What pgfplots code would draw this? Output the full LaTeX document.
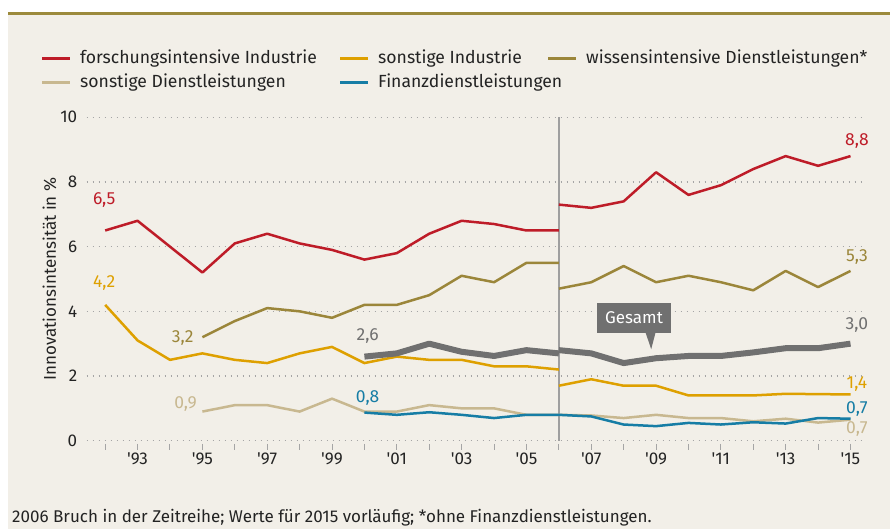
\documentclass[border=0pt]{standalone}
\usepackage{fontspec}
\setmainfont{Fira Sans}
\usepackage{pgfplots}
\pgfplotsset{compat=1.18}

\definecolor{bg}{RGB}{242,239,232}
\definecolor{rulec}{RGB}{156,138,60}
\definecolor{cred}{RGB}{190,28,40}
\definecolor{cyel}{RGB}{222,160,0}
\definecolor{coli}{RGB}{155,134,58}
\definecolor{cbei}{RGB}{200,184,144}
\definecolor{cblu}{RGB}{22,125,165}
\definecolor{cgry}{RGB}{112,112,112}
\definecolor{txt}{RGB}{35,35,35}
\definecolor{tickc}{RGB}{165,165,165}

\begin{document}
\begin{tikzpicture}[font=\fontsize{17}{20}\selectfont]
\begin{scope}[x=1pt,y=1pt]
\fill[white] (0,0) rectangle (890,529);
\fill[bg] (8,0) rectangle (890,514);
\fill[rulec] (8,514) rectangle (890,517);
\useasboundingbox (0,0) rectangle (890,529);

% legend
\begin{scope}[font=\fontsize{17.6}{20}\selectfont]
\draw[cred, line width=3pt] (42,470.7) -- (70,470.7);
\node[anchor=base west, inner sep=0, txt] at (80,465.7) {forschungsintensive Industrie};
\draw[cyel, line width=3pt] (340,470.7) -- (368,470.7);
\node[anchor=base west, inner sep=0, txt] at (378,465.7) {sonstige Industrie};
\draw[coli, line width=3pt] (548,470.7) -- (576,470.7);
\node[anchor=base west, inner sep=0, txt] at (586,465.7) {wissensintensive Dienstleistungen*};
\draw[cbei, line width=3pt] (42,446.7) -- (70,446.7);
\node[anchor=base west, inner sep=0, txt] at (80,441.7) {sonstige Dienstleistungen};
\draw[cblu, line width=3pt] (340,446.7) -- (368,446.7);
\node[anchor=base west, inner sep=0, txt] at (378,441.7) {Finanzdienstleistungen};
\end{scope}

\node[anchor=base west, inner sep=0, txt, font=\fontsize{17}{20}\selectfont] at (12,6) {2006 Bruch in der Zeitreihe; Werte für 2015 vorläufig; *ohne Finanzdienstleistungen.};
\end{scope}

\begin{axis}[
    at={(86.7pt,88.3pt)}, anchor=south west,
    scale only axis, width=780pt, height=323.4pt,
    xmin=1991.43, xmax=2015.5, ymin=0, ymax=10,
    axis line style={draw=none},
    ymajorgrids,
    grid style={tickc, line width=1.2pt, dash pattern=on 1.5pt off 4.5pt},
    ytick={0,2,...,10},
    ytick style={draw=none},
    xtick={1992,...,2015},
    xticklabels={,\textquotesingle93,,\textquotesingle95,,\textquotesingle97,,\textquotesingle99,,\textquotesingle01,,\textquotesingle03,,\textquotesingle05,,\textquotesingle07,,\textquotesingle09,,\textquotesingle11,,\textquotesingle13,,\textquotesingle15},
    xtick pos=bottom, ytick pos=left,
    tick align=outside, major tick length=6pt,
    xtick style={draw=none},
    xticklabel style={txt, yshift=-3pt},
    yticklabel style={txt},
    /pgf/number format/assume math mode=true,
    ylabel={Innovationsintensität in \%},
    ylabel style={txt, yshift=-3pt},
    clip=false,
    every axis plot/.append style={line width=2.5pt, line join=round},
]
\draw[gray!75, line width=1.5pt] (axis cs:2006,0) -- (axis cs:2006,10);
\pgfplotsinvokeforeach{1992,...,2015}{
  \draw[tickc, line width=1pt] ([yshift=-3.3pt]axis cs:#1,0) -- ([yshift=-9.3pt]axis cs:#1,0);
}

\addplot[cred] coordinates {(1992,6.5)(1993,6.8)(1994,6.0)(1995,5.2)(1996,6.1)(1997,6.4)(1998,6.1)(1999,5.9)(2000,5.6)(2001,5.8)(2002,6.4)(2003,6.8)(2004,6.7)(2005,6.5)(2006,6.5)};
\addplot[cred] coordinates {(2006,7.3)(2007,7.2)(2008,7.4)(2009,8.3)(2010,7.6)(2011,7.9)(2012,8.4)(2013,8.8)(2014,8.5)(2015,8.8)};

\addplot[cyel] coordinates {(1992,4.2)(1993,3.1)(1994,2.5)(1995,2.7)(1996,2.5)(1997,2.4)(1998,2.7)(1999,2.9)(2000,2.4)(2001,2.6)(2002,2.5)(2003,2.5)(2004,2.3)(2005,2.3)(2006,2.2)};
\addplot[cyel] coordinates {(2006,1.7)(2007,1.9)(2008,1.7)(2009,1.7)(2010,1.4)(2011,1.4)(2012,1.4)(2013,1.45)(2014,1.44)(2015,1.43)};

\addplot[coli] coordinates {(1995,3.2)(1996,3.7)(1997,4.1)(1998,4.0)(1999,3.8)(2000,4.2)(2001,4.2)(2002,4.5)(2003,5.1)(2004,4.9)(2005,5.5)(2006,5.5)};
\addplot[coli] coordinates {(2006,4.7)(2007,4.9)(2008,5.4)(2009,4.9)(2010,5.1)(2011,4.9)(2012,4.65)(2013,5.25)(2014,4.75)(2015,5.25)};

\addplot[cbei] coordinates {(1995,0.9)(1996,1.1)(1997,1.1)(1998,0.9)(1999,1.3)(2000,0.9)(2001,0.9)(2002,1.1)(2003,1.0)(2004,1.0)(2005,0.8)(2006,0.8)(2007,0.78)(2008,0.7)(2009,0.8)(2010,0.7)(2011,0.7)(2012,0.6)(2013,0.68)(2014,0.56)(2015,0.65)};

\addplot[cblu] coordinates {(2000,0.87)(2001,0.8)(2002,0.88)(2003,0.8)(2004,0.7)(2005,0.8)(2006,0.8)(2007,0.75)(2008,0.5)(2009,0.45)(2010,0.55)(2011,0.5)(2012,0.57)(2013,0.53)(2014,0.7)(2015,0.68)};

\addplot[cgry, line width=6pt] coordinates {(2000,2.6)(2001,2.7)(2002,3.0)(2003,2.75)(2004,2.62)(2005,2.8)(2006,2.7)};
\addplot[cgry, line width=6pt] coordinates {(2006,2.8)(2007,2.7)(2008,2.4)(2009,2.55)(2010,2.62)(2011,2.62)(2012,2.73)(2013,2.86)(2014,2.86)(2015,3.0)};

% Gesamt callout
\fill[cgry] (axis cs:2007.19,3.32) rectangle (axis cs:2009.45,4.26);
\fill[cgry] (axis cs:2008.68,3.33) -- (axis cs:2008.98,3.33) -- (axis cs:2008.85,2.83) -- cycle;
\node[white] at (axis cs:2008.32,3.80) {Gesamt};

% value labels
\begin{scope}[every node/.style={font=\fontsize{17.5}{20}\selectfont}]
\node[cred] at (axis cs:1991.97,7.44) {6,5};
\node[cyel] at (axis cs:1991.97,4.87) {4,2};
\node[coli] at (axis cs:1994.39,3.17) {3,2};
\node[cbei] at (axis cs:1994.48,1.13) {0,9};
\node[cgry] at (axis cs:2000.1,3.24) {2,6};
\node[cblu] at (axis cs:2000.1,1.33) {0,8};
\node[cred] at (axis cs:2015.2,9.28) {8,8};
\node[coli] at (axis cs:2015.2,5.67) {5,3};
\node[cgry] at (axis cs:2015.2,3.58) {3,0};
\node[cyel] at (axis cs:2015.2,1.75) {1,4};
\node[cblu] at (axis cs:2015.2,0.97) {0,7};
\node[cbei] at (axis cs:2015.2,0.35) {0,7};
\end{scope}
\end{axis}
\end{tikzpicture}
\end{document}
